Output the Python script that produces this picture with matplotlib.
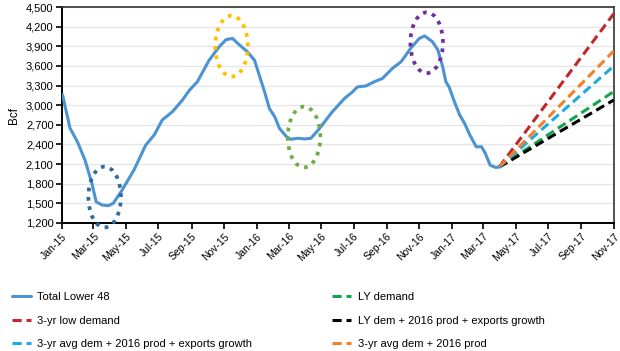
import matplotlib
matplotlib.use("Agg")
import matplotlib.pyplot as plt
import matplotlib.dates as mdates
from matplotlib.patches import Ellipse
import numpy as np
import pandas as pd

plt.rcParams['font.family'] = ['Liberation Sans', 'DejaVu Sans']

# ---- data ----
hist_dates = ["2015-01-02","2015-01-16","2015-01-30","2015-02-13","2015-02-26","2015-03-06",
              "2015-03-17","2015-03-29","2015-04-07","2015-04-22","2015-05-16","2015-06-07",
              "2015-06-23","2015-07-08","2015-07-27","2015-08-15","2015-08-28","2015-09-12",
              "2015-10-04","2015-10-23","2015-11-05","2015-11-17","2015-11-30","2015-12-15",
              "2015-12-28","2016-01-06","2016-01-16","2016-01-25","2016-02-04","2016-02-13",
              "2016-02-26","2016-03-05","2016-03-18","2016-03-31","2016-04-12","2016-04-28",
              "2016-05-22","2016-06-14","2016-06-29","2016-07-08","2016-07-24","2016-08-09",
              "2016-08-24","2016-09-12","2016-09-28","2016-10-16","2016-11-01","2016-11-11",
              "2016-11-26","2016-12-06","2016-12-15","2016-12-21","2016-12-27","2017-01-06",
              "2017-01-16","2017-01-25","2017-02-04","2017-02-16","2017-02-26","2017-03-05",
              "2017-03-14","2017-03-24","2017-03-31"]
hist_values = [3160,2650,2440,2165,1810,1525,1475,1465,1500,1680,2010,2390,
               2545,2775,2900,3080,3230,3360,3690,3895,4005,4020,3920,3815,
               3690,3460,3205,2950,2825,2645,2520,2480,2495,2485,2495,2645,
               2900,3105,3205,3280,3295,3360,3410,3565,3665,3870,4020,4060,
               3970,3845,3590,3360,3280,3055,2850,2725,2545,2365,2365,2265,
               2085,2050,2055]

fc_dates = ["2017-03-31", "2017-11-01"]
fc_start = 2055
fc_names = ["LY demand", "3-yr low demand", "LY dem + 2016 prod + exports growth",
            "3-yr avg dem + 2016 prod + exports growth", "3-yr avg dem + 2016 prod"]
fc_end = [3210, 4400, 3080, 3600, 3830]
fc_colors = ["#13A54B", "#C1272D", "#000000", "#1FA9E1", "#F27F2A"]

ell_centers = ["2015-03-22", "2015-11-15", "2016-03-30", "2016-11-15"]
ell_values = [1597, 3904, 2514, 3955]
ell_colors = ["#2E6C9E", "#FFC000", "#70AD47", "#7030A0"]

tick_dates = pd.date_range("2015-01-01", "2017-11-01", freq="2MS")
tick_labels = [d.strftime("%b-%y") for d in tick_dates]

# ---- figure ----
fig = plt.figure(figsize=(6.2, 3.51), dpi=100)
ax = fig.add_axes([0.1, 0.3647, 0.89, 0.615])

hx = mdates.date2num(pd.to_datetime(hist_dates))
ax.plot(hx, hist_values, color="#4B93D1", lw=2.2, solid_capstyle="round",
        label="Total Lower 48", zorder=4)

fx = mdates.date2num(pd.to_datetime(fc_dates))
for name, end, c in zip(fc_names, fc_end, fc_colors):
    ax.plot(fx, [fc_start, end], color=c, lw=2.2, dashes=(3, 1.6), label=name, zorder=3)

for cdate, v, c in zip(ell_centers, ell_values, ell_colors):
    e = Ellipse((mdates.date2num(pd.Timestamp(cdate)), v), width=61, height=930,
                fill=False, edgecolor=c, lw=2.7, linestyle=(0, (1, 1.5)),
                capstyle="butt", clip_on=False, zorder=5)
    ax.add_patch(e)

ax.set_xlim(mdates.date2num(pd.Timestamp("2015-01-01")), mdates.date2num(pd.Timestamp("2017-11-01")))
ax.set_ylim(1200, 4500)
ax.set_yticks(np.arange(1200, 4501, 300))
ax.set_yticklabels([f"{v:,}" for v in range(1200, 4501, 300)], fontsize=8)
ax.set_xticks(mdates.date2num(tick_dates))
ax.set_xticklabels(tick_labels, rotation=45, ha="right", rotation_mode="anchor", fontsize=7.5)
ax.tick_params(axis="both", direction="out", length=4, width=1.2, color="black", pad=2)
ax.grid(axis="y", color="#E6E6E6", lw=1)
ax.set_axisbelow(True)
for s in ["left", "bottom"]:
    ax.spines[s].set_linewidth(1.4)
    ax.spines[s].set_color("black")
for s in ["top", "right"]:
    ax.spines[s].set_linewidth(1.2)
    ax.spines[s].set_color("#333333")
ax.set_ylabel("Bcf", fontsize=8.5, labelpad=4)

h = ax.get_legend_handles_labels()
hd = dict(zip(h[1], h[0]))
order = ["Total Lower 48", "3-yr low demand", "3-yr avg dem + 2016 prod + exports growth",
         "LY demand", "LY dem + 2016 prod + exports growth", "3-yr avg dem + 2016 prod"]
fig.legend([hd[o] for o in order], order, loc="upper left", bbox_to_anchor=(0.012, 0.18),
           ncol=2, frameon=False, fontsize=8, handlelength=1.7, columnspacing=7.2,
           labelspacing=1.2, handletextpad=0.6, borderaxespad=0)

fig.savefig("out.png", dpi=100)
